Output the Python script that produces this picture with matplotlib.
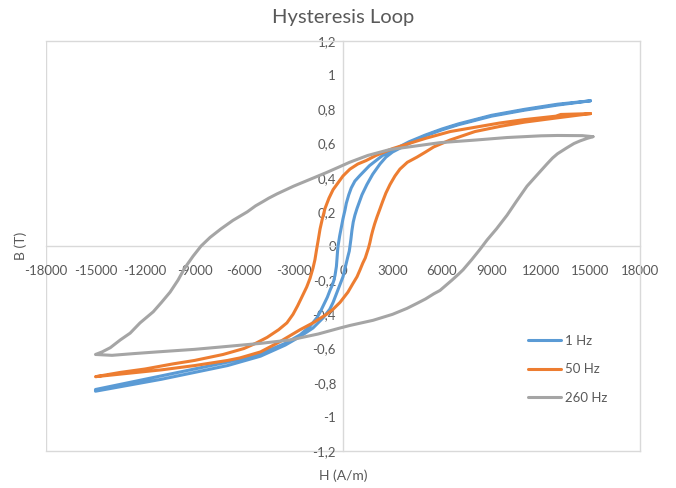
import matplotlib.pyplot as plt

plt.rcParams['font.family'] = ['Lato', 'DejaVu Sans']

# 1 Hz loop (descending branch then ascending branch)
h_1hz_down = [15000, 13000, 11000, 9000, 7000, 6000, 5000, 4000, 3000, 2400, 2000, 1600, 1300,
              1000, 720, 500, 350, 200, 120, 0, -100, -200, -250, -300, -330, -360, -400, -480,
              -550, -650, -790, -950, -1150, -1350, -1580, -2000, -2600, -3500, -5000, -7000,
              -9000, -11000, -13000, -15000]
b_1hz_down = [0.85, 0.83, 0.80, 0.765, 0.715, 0.685, 0.65, 0.61, 0.56, 0.53, 0.50, 0.47, 0.44,
              0.41, 0.38, 0.34, 0.30, 0.25, 0.21, 0.16, 0.11, 0.06, 0.03, 0.0, -0.03, -0.07,
              -0.12, -0.17, -0.20, -0.23, -0.26, -0.30, -0.34, -0.38, -0.42, -0.47, -0.52, -0.57,
              -0.63, -0.68, -0.72, -0.76, -0.80, -0.84]
h_1hz_up = [-15000, -13000, -11000, -9000, -7000, -5000, -3500, -2600, -1820, -1200, -800, -600,
            -400, -200, 0, 100, 200, 300, 380, 424, 480, 540, 620, 720, 850, 1000, 1150, 1450,
            1800, 2240, 2600, 3000, 4000, 5000, 6000, 7000, 9000, 11000, 13000, 15000]
b_1hz_up = [-0.85, -0.815, -0.78, -0.74, -0.70, -0.645, -0.58, -0.53, -0.48, -0.42, -0.37, -0.33,
            -0.28, -0.23, -0.18, -0.14, -0.10, -0.06, -0.03, 0.0, 0.04, 0.09, 0.14, 0.18, 0.22,
            0.26, 0.30, 0.36, 0.42, 0.48, 0.52, 0.55, 0.60, 0.645, 0.68, 0.71, 0.76, 0.795, 0.825,
            0.85]

# 50 Hz loop
h_50hz_down = [15000, 13200, 12900, 11000, 9500, 8000, 6500, 5000, 4000, 3000, 2000, 1400, 900,
               420, 0, -300, -600, -850, -1090, -1250, -1390, -1510, -1600, -1700, -1820, -2000,
               -2200, -2450, -2750, -3030, -3400, -3900, -4600, -5300, -6000, -7270, -9000,
               -10300, -12000, -13500, -15000]
b_50hz_down = [0.775, 0.77, 0.76, 0.74, 0.72, 0.695, 0.67, 0.63, 0.60, 0.57, 0.53, 0.50, 0.48,
               0.45, 0.41, 0.37, 0.33, 0.28, 0.22, 0.16, 0.10, 0.03, -0.02, -0.08, -0.13, -0.19,
               -0.24, -0.29, -0.35, -0.40, -0.45, -0.49, -0.535, -0.57, -0.60, -0.635, -0.67,
               -0.69, -0.72, -0.74, -0.765]
h_50hz_up = [-15000, -13000, -11000, -9000, -7000, -6240, -5000, -3820, -2600, -1820, -1000, -600,
             -180, 300, 600, 850, 1030, 1200, 1350, 1450, 1550, 1630, 1720, 1800, 1920, 2060,
             2250, 2400, 2600, 2850, 3150, 3450, 3900, 4480, 5000, 5500, 6480, 8000, 9510,
             11000, 12970, 15000]
b_50hz_up = [-0.765, -0.745, -0.725, -0.70, -0.67, -0.655, -0.62, -0.56, -0.49, -0.45, -0.40,
             -0.37, -0.33, -0.27, -0.22, -0.18, -0.14, -0.10, -0.07, -0.04, -0.01, 0.02, 0.06,
             0.09, 0.13, 0.17, 0.22, 0.26, 0.31, 0.36, 0.41, 0.45, 0.49, 0.52, 0.55, 0.58, 0.62,
             0.67, 0.70, 0.725, 0.75, 0.775]

# 260 Hz loop
h_260hz_down = [15150, 14500, 13000, 12000, 9940, 8000, 5880, 4000, 2850, 1500, 400, -180, -1000,
                -2000, -3000, -4000, -4500, -4850, -5300, -5800, -6670, -7400, -8060, -8600,
                -9090, -9600, -10000, -10480, -11000, -11500, -12300, -12900, -13500, -14100,
                -14600, -15000]
b_260hz_down = [0.64, 0.646, 0.647, 0.645, 0.635, 0.62, 0.605, 0.58, 0.565, 0.53, 0.49, 0.465,
                0.43, 0.39, 0.35, 0.305, 0.28, 0.26, 0.235, 0.20, 0.15, 0.10, 0.05, 0.0, -0.06,
                -0.13, -0.20, -0.27, -0.33, -0.385, -0.45, -0.51, -0.55, -0.595, -0.62, -0.635]
h_260hz_up = [-15000, -14000, -12700, -11270, -9000, -7270, -5000, -3200, -1500, -180, 424,
              1820, 3000, 3880, 4500, 5000, 5500, 5880, 6300, 6600, 7000, 7270, 7800, 8300, 8730,
              9300, 9940, 10500, 11150, 11800, 12360, 12700, 13000, 13570, 14000, 14360, 14800,
              15150]
b_260hz_up = [-0.635, -0.64, -0.63, -0.62, -0.605, -0.59, -0.57, -0.55, -0.515, -0.48, -0.465,
              -0.435, -0.40, -0.365, -0.335, -0.31, -0.28, -0.26, -0.225, -0.20, -0.165, -0.14,
              -0.08, -0.02, 0.035, 0.10, 0.18, 0.26, 0.35, 0.42, 0.48, 0.515, 0.54, 0.575, 0.60,
              0.615, 0.63, 0.64]

x_ticks = list(range(-18000, 18001, 3000))
y_ticks = [-1.2, -1, -0.8, -0.6, -0.4, -0.2, 0, 0.2, 0.4, 0.6, 0.8, 1, 1.2]

text_col = '#595959'
grid_col = '#d9d9d9'

fig = plt.figure(figsize=(6.76, 4.88), dpi=100)
ax = fig.add_axes([46 / 676, 1 - 451 / 488, 594 / 676, 410 / 488])

ax.plot(h_1hz_down + h_1hz_up, b_1hz_down + b_1hz_up, color='#5b9bd5', lw=2.2, label='1 Hz',
        solid_capstyle='round', solid_joinstyle='round', zorder=3)
ax.plot(h_50hz_down + h_50hz_up, b_50hz_down + b_50hz_up, color='#ed7d31', lw=2.2, label='50 Hz',
        solid_capstyle='round', solid_joinstyle='round', zorder=3)
ax.plot(h_260hz_down + h_260hz_up, b_260hz_down + b_260hz_up, color='#a5a5a5', lw=2.2,
        label='260 Hz', solid_capstyle='round', solid_joinstyle='round', zorder=3)

ax.set_xlim(-18000, 18000)
ax.set_ylim(-1.2, 1.2)
ax.set_xticks(x_ticks)
ax.set_yticks(y_ticks)
ax.set_xticklabels([str(t) for t in x_ticks])
ax.set_yticklabels([('%g' % t).replace('.', ',') for t in y_ticks])

# axes crossing at origin, Excel style
ax.spines['left'].set_position(('data', 0))
ax.spines['bottom'].set_position(('data', 0))
for s in ax.spines.values():
    s.set_color(grid_col)
    s.set_linewidth(1)
ax.axvline(-18000, color=grid_col, lw=1, zorder=1)
ax.axhline(-1.2, color=grid_col, lw=1, zorder=1, clip_on=False)
ax.tick_params(length=0, colors=text_col, labelsize=9.5)
ax.tick_params(axis='x', pad=14)
ax.tick_params(axis='y', pad=5)

fig.text(343 / 676, 1 - 18 / 488, 'Hysteresis Loop', ha='center', va='center',
         fontsize=14.5, color=text_col)
fig.text(343 / 676, 1 - 476 / 488, 'H (A/m)', ha='center', va='center', fontsize=10, color=text_col)
fig.text(21 / 676, 1 - 246 / 488, 'B (T)', ha='center', va='center', rotation=90,
         fontsize=10, color=text_col)

ax.legend(loc='upper left', bbox_to_anchor=(528 / 676, 1 - 335 / 488),
          bbox_transform=fig.transFigure, frameon=False, fontsize=9.5, labelcolor=text_col,
          handlelength=2.5, handletextpad=0.3, labelspacing=1.25, borderpad=0, borderaxespad=0)

fig.savefig('out.png', dpi=100)
